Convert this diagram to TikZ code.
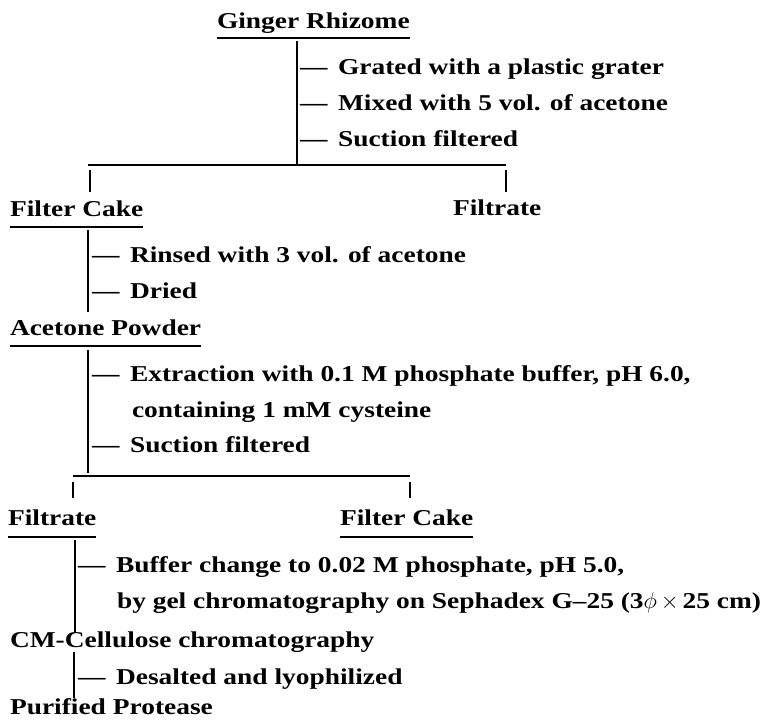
\documentclass[tikz,border=0pt]{standalone}
\usepackage{fontspec}
\setmainfont{Liberation Serif}[FakeStretch=1.21]
\begin{document}
\begin{tikzpicture}[x=0.75pt,y=-0.75pt,
  lbl/.style={anchor=base west,inner sep=0pt,outer sep=0pt,font=\bfseries\fontsize{17}{20}\selectfont},
  ln/.style={line width=0.8pt},
  ul/.style={line width=0.8pt}]
\useasboundingbox (0,0) rectangle (771,728);
\newcommand{\dsh}{—\hspace{8pt}}
% top
\node[lbl] (gr) at (217,28) {Ginger Rhizome};
\draw[ul] ([yshift=-7.5pt]gr.base west) -- ([yshift=-7.5pt]gr.base east);
\coordinate (v1t) at (297,41); \coordinate (v1b) at (297,165);
\draw[ln] (v1t) -- (v1b);
\node[lbl] (s1) at (300,74) {\dsh Grated with a plastic grater};
\node[lbl] (s2) at (300,110) {\dsh Mixed with 5 vol. of acetone};
\node[lbl] (s3) at (300,146) {\dsh Suction filtered};
\coordinate (b1l) at (88,165); \coordinate (b1r) at (506,165);
\draw[ln] (b1l) -- (b1r);
\coordinate (t1a) at (90,170); \coordinate (t1b) at (90,192);
\coordinate (t2a) at (506,170); \coordinate (t2b) at (506,192);
\draw[ln] (t1a) -- (t1b);
\draw[ln] (t2a) -- (t2b);
\node[lbl] (fc1) at (10,216) {Filter Cake};
\draw[ul] ([yshift=-8.25pt]fc1.base west) -- ([yshift=-8.25pt]fc1.base east);
\node[lbl] (ft1) at (453,215) {Filtrate};
\coordinate (v2t) at (88,230); \coordinate (v2b) at (88,312);
\draw[ln] (v2t) -- (v2b);
\node[lbl] (s4) at (92,262) {\dsh Rinsed with 3 vol. of acetone};
\node[lbl] (s5) at (92,298) {\dsh Dried};
\node[lbl] (ap) at (10,335) {Acetone Powder};
\draw[ul] ([yshift=-8.25pt]ap.base west) -- ([yshift=-8.25pt]ap.base east);
\coordinate (v3t) at (88,350); \coordinate (v3b) at (88,473);
\draw[ln] (v3t) -- (v3b);
\node[lbl] (s6) at (92,381) {\dsh Extraction with 0.1 M phosphate buffer, pH 6.0,};
\node[lbl] (s6b) at (132,417) {containing 1 mM cysteine};
\node[lbl] (s7) at (92,452) {\dsh Suction filtered};
\coordinate (b2l) at (73,476); \coordinate (b2r) at (410,476);
\draw[ln] (b2l) -- (b2r);
\coordinate (t3a) at (73,482); \coordinate (t3b) at (73,498);
\coordinate (t4a) at (410,482); \coordinate (t4b) at (410,498);
\draw[ln] (t3a) -- (t3b);
\draw[ln] (t4a) -- (t4b);
\node[lbl] (ft2) at (8,525) {Filtrate};
\draw[ul] ([yshift=-9pt]ft2.base west) -- ([yshift=-9pt]ft2.base east);
\node[lbl] (fc2) at (340,525) {Filter Cake};
\draw[ul] ([yshift=-9pt]fc2.base west) -- ([yshift=-9pt]fc2.base east);
\coordinate (v4t) at (75,540); \coordinate (v4b) at (75,632);
\draw[ln] (v4t) -- (v4b);
\node[lbl] (s8) at (78,572) {\dsh Buffer change to 0.02 M phosphate, pH 5.0,};
\node[lbl] (s8b) at (117,608) {by gel chromatography on Sephadex G–25 (3$\phi\,{\times}\,$25 cm)};
\node[lbl] (cm) at (10,647) {CM-Cellulose chromatography};
\coordinate (v5t) at (74,652); \coordinate (v5b) at (74,698);
\draw[ln] (v5t) -- (v5b);
\node[lbl] (s9) at (78,684) {\dsh Desalted and lyophilized};
\node[lbl] (pp) at (10,714) {Purified Protease};
\end{tikzpicture}
\end{document}
